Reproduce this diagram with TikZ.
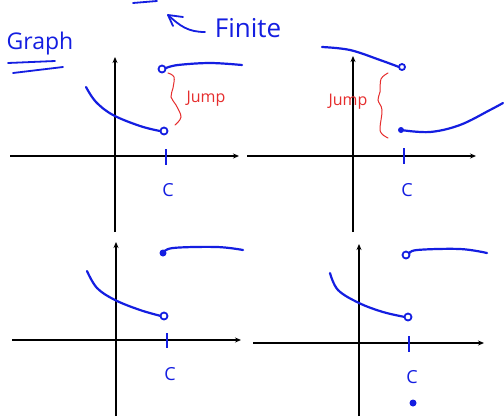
\documentclass[tikz,border=0pt]{standalone}
\usepackage{fontspec}
\setmainfont{Open Sans}
\usetikzlibrary{arrows.meta}
\definecolor{pen}{RGB}{20,30,225}
\definecolor{redpen}{RGB}{230,45,45}
\tikzset{
  axis/.style={line width=1.6pt, black, -{Stealth[length=6pt,width=5pt]}},
  curve/.style={line width=2.2pt, pen, line cap=round, line join=round},
  tickmark/.style={line width=2pt, pen},
  opendot/.style={circle, draw=pen, line width=1.8pt, fill=white, inner sep=0pt, minimum size=7pt},
  filldot/.style={circle, fill=pen, inner sep=0pt, minimum size=7pt},
  clabel/.style={text=pen, font=\fontsize{18}{18}\selectfont, inner sep=0pt},
  jumplabel/.style={text=redpen, font=\fontsize{16}{16}\selectfont, inner sep=0pt},
  brace/.style={line width=1pt, redpen, line cap=round},
}
\begin{document}
\begin{tikzpicture}[x=1pt,y=-1pt]
\useasboundingbox (0,0) rectangle (504,416);
\fill[white] (0,0) rectangle (504,416);

% header
\node[text=pen, font=\fontsize{23}{23}\selectfont, inner sep=0pt, anchor=center] (graph) at (40,44) {Graph};
\draw[curve, line width=1.8pt] (8,63) -- (55,61);
\draw[curve, line width=1.8pt] (13,73) -- (63,67);
\draw[curve, line width=1.8pt] (133,3) -- (157,1);
\node[text=pen, font=\fontsize{26}{26}\selectfont, inner sep=0pt] (finite) at (248,28) {Finite};
\coordinate (arrtail) at (205,32);
\coordinate (arrtip) at (168,15);
\draw[curve, line width=1.8pt] (arrtail) .. controls (188,32) and (180,26) .. (arrtip);
\draw[curve, line width=1.8pt] (183,17) -- (arrtip) -- (173,26);

% ---------- top-left ----------
\coordinate (tlxa) at (10,156); \coordinate (tlxb) at (239,156);
\coordinate (tlya) at (115,232); \coordinate (tlyb) at (115,57);
\draw[axis] (tlxa) -- (tlxb);
\draw[axis] (tlya) -- (tlyb);
\draw[tickmark] (166,149) -- (166,165);
\node[clabel] (c1) at (168,190) {C};
\draw[curve] plot[smooth, tension=0.6] coordinates {(86,87) (96,102) (113,115) (140,126) (160,131)};
\node[opendot] (o1a) at (164,131) {};
\draw[curve] plot[smooth, tension=0.6] coordinates {(166,68) (178,65) (210,63) (242,65)};
\node[opendot] (o1b) at (162,69) {};
\draw[brace] plot[smooth, tension=0.6] coordinates {(168,73) (174,77) (173,88) (171,97) (176,105) (181,117) (175,125)};
\node[jumplabel] (j1) at (206,99) {Jump};

% ---------- top-right ----------
\coordinate (trxa) at (247,156); \coordinate (trxb) at (476,156);
\coordinate (trya) at (353,232); \coordinate (tryb) at (353,56);
\draw[axis] (trxa) -- (trxb);
\draw[axis] (trya) -- (tryb);
\draw[tickmark] (404,148) -- (404,164);
\node[clabel] (c2) at (407,190) {C};
\draw[curve] plot[smooth, tension=0.6] coordinates {(322,47) (350,50) (380,60) (399,67)};
\node[opendot, minimum size=6pt] (o2) at (402,67) {};
\draw[curve] plot[smooth, tension=0.6] coordinates {(401,130) (430,132) (460,125) (490,110) (503,103)};
\node[filldot, minimum size=6pt] (f2) at (401,130) {};
\draw[brace] plot[smooth, tension=0.6] coordinates {(388,73) (381,79) (380,92) (378,100) (382,110) (380,128) (382,134) (388,138)};
\node[jumplabel] (j2) at (348,102) {Jump};

% ---------- bottom-left ----------
\coordinate (blxa) at (12,340); \coordinate (blxb) at (241,340);
\coordinate (blya) at (116,416); \coordinate (blyb) at (116,242);
\draw[axis] (blxa) -- (blxb);
\draw[axis] (blya) -- (blyb);
\draw[tickmark] (167,333) -- (167,348);
\node[clabel] (c3) at (170,374) {C};
\draw[curve] plot[smooth, tension=0.6] coordinates {(87,271) (97,288) (115,300) (140,310) (161,316)};
\node[opendot] (o3) at (164,316) {};
\draw[curve] plot[smooth, tension=0.6] coordinates {(163,253) (173,248) (217,247) (243,250)};
\node[filldot] (f3) at (163,253) {};

% ---------- bottom-right ----------
\coordinate (brxa) at (253,343); \coordinate (brxb) at (484,343);
\coordinate (brya) at (359,416); \coordinate (bryb) at (359,244);
\draw[axis] (brxa) -- (brxb);
\draw[axis] (brya) -- (bryb);
\draw[tickmark] (409,336) -- (409,352);
\node[clabel] (c4) at (412,377) {C};
\draw[curve] plot[smooth, tension=0.6] coordinates {(330,273) (338,290) (359,303) (383,312) (405,317)};
\node[opendot] (o4a) at (408,317) {};
\draw[curve] plot[smooth, tension=0.6] coordinates {(409,254) (417,250) (460,249) (487,253)};
\node[opendot] (o4b) at (406,255) {};
\node[filldot] (f4) at (413,403) {};
\end{tikzpicture}
\end{document}
